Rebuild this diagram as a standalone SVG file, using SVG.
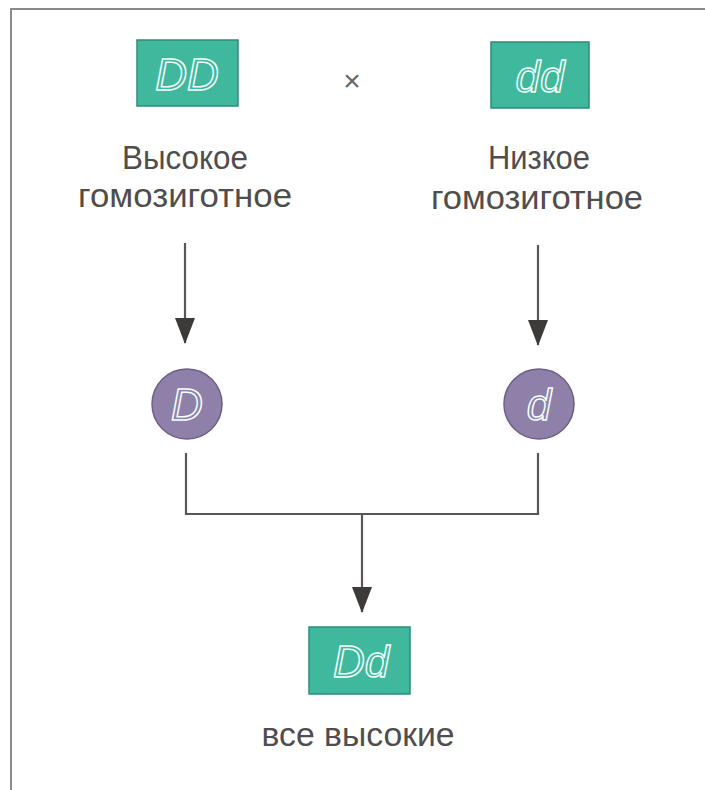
<svg xmlns="http://www.w3.org/2000/svg" width="705" height="790" viewBox="0 0 705 790">
  <defs>
    <!-- arrowhead drawn along +x so orient="auto" points it down the line -->
    <marker id="arrow" markerWidth="26" markerHeight="20" refX="25" refY="10" orient="auto" markerUnits="userSpaceOnUse" viewBox="0 0 26 20">
      <path d="M0,0 L26,10 L0,20 Z" fill="#3e3a3a"/>
    </marker>
  </defs>
  <style>
    .box { fill: #3fb89d; stroke: #2f8c77; stroke-width: 1.5; }
    .allele { fill: #8f80aa; stroke: #6d5f88; stroke-width: 1.5; }
    .gene { font-family: "Liberation Sans", Arial, sans-serif; font-style: italic; fill: none; stroke: #f2fffb; stroke-width: 1.5; text-anchor: middle; }
    .label { font-family: "Liberation Sans", Arial, sans-serif; font-size: 34px; fill: #504d4d; text-anchor: middle; }
    .line { fill: none; stroke: #5a5656; stroke-width: 2.2; }
    .frame { fill: none; stroke: #8a8a8a; stroke-width: 2; }
  </style>

  <rect width="705" height="790" fill="#ffffff"/>
  <path class="frame" d="M11,790 L11,9 L705,9"/>

  <!-- parents -->
  <g id="parent-DD">
    <rect class="box" x="137" y="40" width="101" height="66"/>
    <text class="gene" x="187" y="90" font-size="44">DD</text>
  </g>
  <g id="cross">
    <text x="352" y="91" font-family="Liberation Sans, Arial, sans-serif" font-size="30" fill="#6a6666" text-anchor="middle">×</text>
  </g>
  <g id="parent-dd">
    <rect class="box" x="491" y="42" width="98" height="66"/>
    <text class="gene" x="540" y="92" font-size="44">dd</text>
  </g>

  <g id="label-left">
    <text class="label" x="185" y="169" textLength="126" lengthAdjust="spacingAndGlyphs">Высокое</text>
    <text class="label" x="185" y="207" textLength="214" lengthAdjust="spacingAndGlyphs">гомозиготное</text>
  </g>
  <g id="label-right">
    <text class="label" x="539" y="169" textLength="102" lengthAdjust="spacingAndGlyphs">Низкое</text>
    <text class="label" x="537" y="209" textLength="212" lengthAdjust="spacingAndGlyphs">гомозиготное</text>
  </g>

  <!-- gametes -->
  <g id="gamete-D">
    <circle class="allele" cx="187" cy="404" r="35"/>
    <text class="gene" x="187" y="420" font-size="44">D</text>
  </g>
  <g id="gamete-d">
    <circle class="allele" cx="539" cy="404" r="35"/>
    <text class="gene" x="539" y="420" font-size="44">d</text>
  </g>

  <!-- offspring -->
  <g id="offspring-Dd">
    <rect class="box" x="309" y="627" width="101" height="67"/>
    <text class="gene" x="361" y="677" font-size="44">Dd</text>
  </g>
  <g id="label-offspring">
    <text class="label" x="358" y="746" textLength="193" lengthAdjust="spacingAndGlyphs">все высокие</text>
  </g>

  <g id="connectors">
    <path class="line" d="M185,243 L185,343" marker-end="url(#arrow)"/>
    <path class="line" d="M538,245 L538,345" marker-end="url(#arrow)"/>
    <path class="line" d="M186,453 L186,514 L538,514 L538,453"/>
    <path class="line" d="M362,514 L362,612" marker-end="url(#arrow)"/>
  </g>
</svg>
